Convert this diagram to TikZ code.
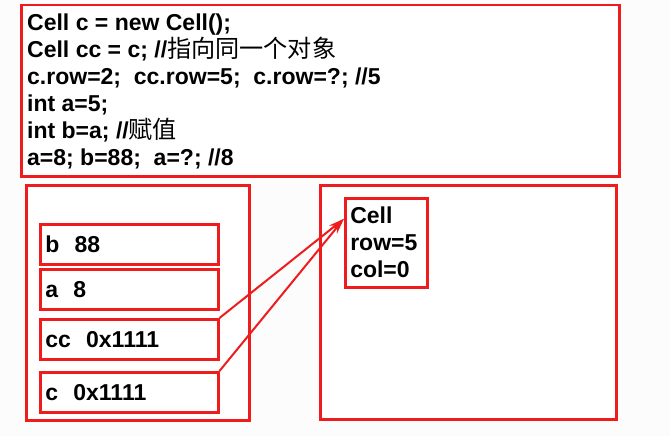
\documentclass[tikz,border=0pt]{standalone}
\usepackage{fontspec}
\setmainfont{Liberation Sans}
\newfontfamily\cjk[Scale=1.05]{Noto Sans CJK SC}
\usetikzlibrary{arrows.meta,positioning,shadows}
\definecolor{boxred}{HTML}{EE1C1C}
\definecolor{paperwhite}{HTML}{FCFCFC}

\begin{document}
\begin{tikzpicture}[
  x=1pt,y=-1pt,
  >={Stealth[length=16pt,width=8pt]},
  frame/.style={draw=boxred,line width=2.5pt,fill=white,
    drop shadow={opacity=.25,shadow xshift=2pt,shadow yshift=-2pt}},
  slot/.style={frame,minimum width=178pt,minimum height=40pt,
    text width=168pt,align=left,inner xsep=5pt,text height=16pt,text depth=0pt},
  every node/.style={font=\fontsize{23}{27}\selectfont\bfseries}
]
  \path[use as bounding box,fill=paperwhite] (0,0) rectangle (670,436);
  % code panel
  \node[frame,anchor=north west,minimum width=598pt,minimum height=171pt] (code) at (20,4) {};
  \node[anchor=north west,inner sep=0pt,align=left] (lines) at (27,14)
    {Cell c = new Cell();\\
     Cell cc = c; //{\cjk\mdseries 指向同一个对象}\\
     c.row=2;\ \ cc.row=5;\ \ c.row=?; //5\\
     int a=5;\\
     int b=a; //{\cjk\mdseries 赋值}\\
     a=8; b=88;\ \ a=?; //8};
  % stack and heap
  \node[frame,anchor=north west,minimum width=223pt,minimum height=235pt] (stack) at (25,184) {};
  \node[frame,anchor=north west,minimum width=296pt,minimum height=234pt] (heap) at (319,184) {};
  \node[slot,anchor=north west] (b) at (39,223) {b\ \ 88};
  \node[slot,below=2.5pt of b] (a) {a\ \ 8};
  \node[slot,below=7.5pt of a] (cc) {cc\ \ 0x1111};
  \node[slot,below=10.5pt of cc] (c) {c\ \ 0x1111};
  \node[frame,anchor=north west,align=left,text width=72pt,inner sep=5pt,minimum height=89pt] (cell) at (344,197)
    {Cell\\row=5\\col=0};
  \draw[->,boxred,line width=2pt] (cc.north east) -- ([yshift=24pt]cell.west);
  \draw[->,boxred,line width=2pt] (c.north east) -- ([yshift=24pt]cell.west);
\end{tikzpicture}
\end{document}
